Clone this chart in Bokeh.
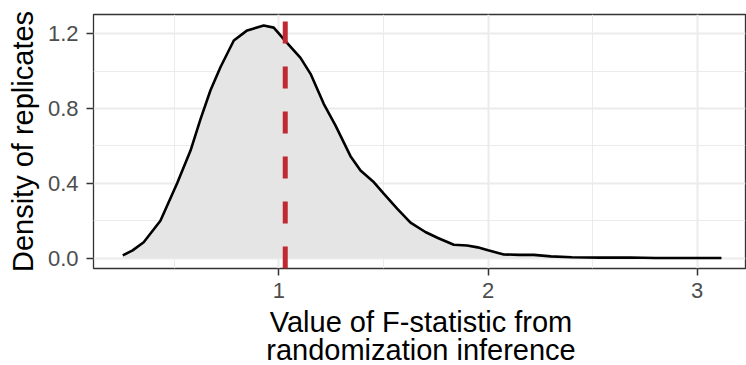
from bokeh.plotting import figure
from bokeh.models import Range1d, FixedTicker, Div
from bokeh.layouts import column
from bokeh.embed import file_html
from bokeh.resources import INLINE

# Density of F-statistic replicates
dens_x = [0.253, 0.30, 0.353, 0.433, 0.513, 0.577, 0.624, 0.672, 0.72, 0.784,
          0.848, 0.927, 0.975, 1.031, 1.103, 1.151, 1.214, 1.27, 1.342, 1.39,
          1.45, 1.501, 1.565, 1.629, 1.70, 1.76, 1.836, 1.90, 1.95, 2.00,
          2.075, 2.15, 2.219, 2.30, 2.40, 2.537, 2.681, 2.80, 2.95, 3.116]
dens_y = [0.015, 0.042, 0.085, 0.20, 0.40, 0.575, 0.74, 0.896, 1.02, 1.163,
          1.217, 1.243, 1.232, 1.160, 1.070, 0.985, 0.825, 0.71, 0.545, 0.468,
          0.41, 0.345, 0.265, 0.19, 0.14, 0.108, 0.072, 0.068, 0.058, 0.042,
          0.020, 0.018, 0.018, 0.010, 0.005, 0.003, 0.004, 0.001, 0.001, 0.001]
observed_f = 1.03

x_ticks = [1, 2, 3]
x_minor = [0.5, 1.5, 2.5]
y_ticks = [0.0, 0.4, 0.8, 1.2]
y_minor = [0.2, 0.6, 1.0]
y_tick_labels = {0.0: "0.0", 0.4: "0.4", 0.8: "0.8", 1.2: "1.2"}
x_title_lines = ["Value of F-statistic from", "randomization inference"]
y_title = "Density of replicates"

FONT = "Liberation Sans"

x_range = Range1d(0.113, 3.231)
y_range = Range1d(-0.055, 1.302)

W = 746
FIG_H = 308
TITLE_H = 56
B_LEFT, B_RIGHT, B_TOP, B_BOTTOM = 93, 1, 14, 40

p = figure(width=W, height=FIG_H, output_backend="svg", toolbar_location=None,
           x_range=x_range, y_range=y_range,
           min_border_left=B_LEFT, min_border_right=B_RIGHT,
           min_border_top=B_TOP, min_border_bottom=B_BOTTOM)

p.background_fill_color = "white"
p.border_fill_color = "white"
p.outline_line_color = "#333333"
p.outline_line_width = 1.3

# grids
p.xaxis.ticker = FixedTicker(ticks=x_ticks, minor_ticks=x_minor)
p.yaxis.ticker = FixedTicker(ticks=y_ticks, minor_ticks=y_minor)
for g in (p.xgrid[0], p.ygrid[0]):
    g.grid_line_color = "#EBEBEB"
    g.grid_line_width = 2
    g.minor_grid_line_color = "#EBEBEB"
    g.minor_grid_line_width = 1

# axes
for ax in (p.xaxis[0], p.yaxis[0]):
    ax.axis_line_color = None
    ax.major_tick_line_color = "#333333"
    ax.major_tick_line_width = 1.5
    ax.major_tick_out = 7
    ax.major_tick_in = 0
    ax.minor_tick_line_color = None
    ax.major_label_text_font = FONT
    ax.major_label_text_font_size = "22px"
    ax.major_label_text_color = "#4D4D4D"

p.xaxis.major_label_standoff = 7
p.yaxis.major_label_standoff = 8
p.yaxis.major_label_overrides = y_tick_labels
p.xaxis.major_label_overrides = {t: str(t) for t in x_ticks}

p.yaxis.axis_label = y_title
p.yaxis.axis_label_text_font = FONT
p.yaxis.axis_label_text_font_size = "29px"
p.yaxis.axis_label_text_font_style = "normal"
p.yaxis.axis_label_text_color = "black"
p.yaxis.axis_label_standoff = 6

# density area and curve
p.varea(x=dens_x, y1=0, y2=dens_y, fill_color="#E5E5E5", fill_alpha=1.0)
p.line(x=dens_x, y=dens_y, line_color="black", line_width=2.6)

# observed F-statistic
p.segment(x0=[observed_f], y0=[y_range.start], x1=[observed_f], y1=[y_range.end],
          line_color="#BE2A30", line_width=5, line_dash="22 23")

# x-axis title (two lines) below the figure, centred under the panel
TITLE_LEFT = 96
TITLE_W = 650
title_html = (
    '<div style="width:%dpx;font-family:\'Liberation Sans\',Arial,sans-serif;'
    'font-size:29px;line-height:28px;text-align:center;color:#000000;'
    'white-space:nowrap;">' % TITLE_W
    + "<br>".join(x_title_lines) + "</div>"
)
title_div = Div(text=title_html, width=TITLE_W, height=TITLE_H,
                margin=(0, 0, 0, TITLE_LEFT))

layout = column(p, title_div, spacing=0)

open("out.html", "w").write(file_html(layout, INLINE))
